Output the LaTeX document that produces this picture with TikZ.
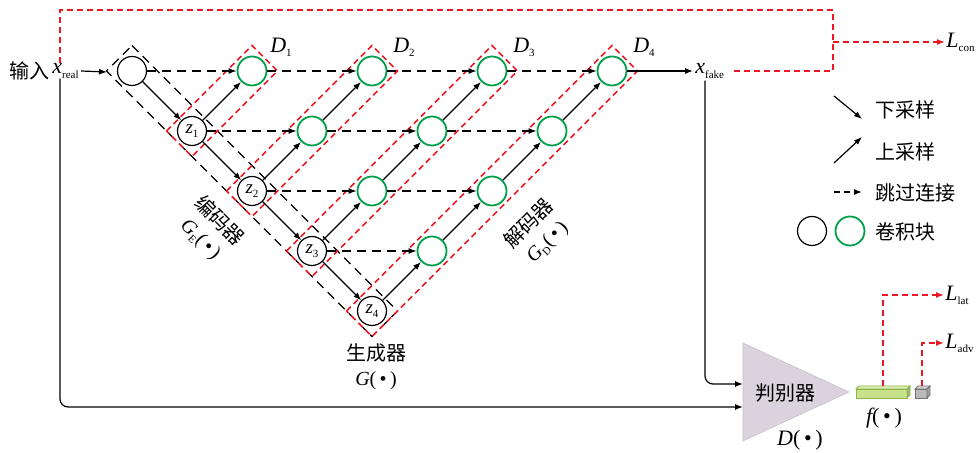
\documentclass[tikz,border=0pt]{standalone}
\usepackage{fontspec}
\setmainfont{Liberation Serif}
\newfontfamily\cjk{Noto Sans CJK SC}
\usepackage{tikz}
\usetikzlibrary{arrows.meta,calc}
\definecolor{convgreen}{RGB}{0,160,75}
\definecolor{lossred}{RGB}{235,25,35}
\definecolor{discfill}{RGB}{218,210,221}
\definecolor{featgreen}{RGB}{200,226,140}
\definecolor{featedge}{RGB}{140,180,70}
\tikzset{
  enc/.style      ={draw,circle,line width=0.6pt,minimum size=14.5pt,inner sep=0pt,font=\fontsize{9.5}{10}\selectfont},
  dec/.style      ={draw=convgreen,circle,line width=0.9pt,minimum size=14.5pt,inner sep=0pt},
  arrow/.style    ={-{Latex[length=4pt,width=3pt]},line width=0.6pt},
  skip/.style     ={arrow,dash pattern=on 4.5pt off 3pt},
  loss/.style     ={draw=lossred,line width=0.75pt,dash pattern=on 3pt off 2pt},
  lossarrow/.style={loss,-{Latex[length=4pt,width=3pt]}},
  encbox/.style   ={draw,line width=0.6pt,dash pattern=on 4.5pt off 3pt},
  decbox/.style   ={draw=lossred,line width=0.75pt,dash pattern=on 3pt off 2pt},
  lbl/.style      ={inner sep=1pt,font=\fontsize{11}{12}\selectfont},
  cnlbl/.style    ={inner sep=1pt,align=center,font=\cjk\fontsize{10}{12.5}\selectfont}
}
% rotated dashed frame round a diagonal chain of blocks
\newcommand{\chainbox}[3]{%
  \path ($(#2)!-9pt!(#3)$) coordinate (cbA) ($(#3)!-9pt!(#2)$) coordinate (cbB);
  \draw[#1] ($(cbA)!9pt!90:(cbB)$) -- ($(cbB)!9pt!-90:(cbA)$)
            -- ($(cbB)!9pt!90:(cbA)$) -- ($(cbA)!9pt!-90:(cbB)$) -- cycle;}
\newcommand{\bul}{(\,\textbullet\,)}
\newcommand{\low}[1]{\raisebox{-0.4ex}{\upshape\fontsize{5.5}{6}\selectfont #1}}

\begin{document}
\begin{tikzpicture}[x=0.5pt,y=-0.5pt]
    \useasboundingbox (0,0) rectangle (976,453);
    % encoder
    \node[enc] (x0) at (132,71)  {};
    \node[enc] (z1) at (192,131) {\itshape z\low{1}};
    \node[enc] (z2) at (252,191) {\itshape z\low{2}};
    \node[enc] (z3) at (312,251) {\itshape z\low{3}};
    \node[enc] (z4) at (372,311) {\itshape z\low{4}};
    % decoder
    \node[dec] (d01) at (252,71)  {};
    \node[dec] (d02) at (372,71)  {};
    \node[dec] (d03) at (492,71)  {};
    \node[dec] (d04) at (612,71)  {};
    \node[dec] (d11) at (312,131) {};
    \node[dec] (d12) at (432,131) {};
    \node[dec] (d13) at (552,131) {};
    \node[dec] (d21) at (372,191) {};
    \node[dec] (d22) at (492,191) {};
    \node[dec] (d31) at (432,251) {};
    \chainbox{encbox}{x0}{z4}
    \chainbox{decbox}{z1}{d01}
    \chainbox{decbox}{z2}{d02}
    \chainbox{decbox}{z3}{d03}
    \chainbox{decbox}{z4}{d04}
    \node[lbl] (lD1) at (281,47) {\itshape D\low{1}};
    \node[lbl] (lD2) at (404,47) {\itshape D\low{2}};
    \node[lbl] (lD3) at (524,47) {\itshape D\low{3}};
    \node[lbl] (lD4) at (644,47) {\itshape D\low{4}};
    % in / out
    \node[cnlbl,anchor=east] (incn) at (52,71) {输入};
    \node[lbl,anchor=west,inner sep=0pt] (xreal) at (52,71) {\itshape x\low{real}};
    \node[lbl,anchor=west] (xfake) at (693,71) {\itshape x\low{fake}};
    \coordinate (encL) at (107,72);
    \draw[arrow] (xreal.east) ++(1pt,0) -- (encL);
    \draw[arrow] (d04) -- (xfake);
    % down sampling
    \draw[arrow] (x0) -- (z1);
    \draw[arrow] (z1) -- (z2);
    \draw[arrow] (z2) -- (z3);
    \draw[arrow] (z3) -- (z4);
    % up sampling
    \draw[arrow] (z1) -- (d01);
    \draw[arrow] (z2) -- (d11);
    \draw[arrow] (d11) -- (d02);
    \draw[arrow] (z3) -- (d21);
    \draw[arrow] (d21) -- (d12);
    \draw[arrow] (d12) -- (d03);
    \draw[arrow] (z4) -- (d31);
    \draw[arrow] (d31) -- (d22);
    \draw[arrow] (d22) -- (d13);
    \draw[arrow] (d13) -- (d04);
    % skips
    \draw[skip] (x0) -- (d01);
    \draw[skip] (d01) -- (d02);
    \draw[skip] (d02) -- (d03);
    \draw[skip] (d03) -- (d04);
    \draw[skip] (z1) -- (d11);
    \draw[skip] (d11) -- (d12);
    \draw[skip] (d12) -- (d13);
    \draw[skip] (z2) -- (d21);
    \draw[skip] (d21) -- (d22);
    \draw[skip] (z3) -- (d31);
    % part names
    \node[cnlbl,rotate=-45] (encname) at (210,230) {编码器\\{\fontspec{Liberation Serif}\itshape G\low{E}\upshape\bul}};
    \node[cnlbl,rotate=45]  (decname) at (538,233) {解码器\\{\fontspec{Liberation Serif}\itshape G\low{D}\upshape\bul}};
    \node[cnlbl] (genname) at (376,367) {生成器\\{\fontspec{Liberation Serif}\itshape G\upshape\bul}};
    % discriminator
    \filldraw[fill=discfill,draw=discfill!80!gray,line width=0.3pt] (743,343) -- (849,392) -- (743,441) -- cycle;
    \node[cnlbl] (discname) at (785,393) {判别器};
    \node[lbl] (dname) at (800,440) {\itshape D\upshape\bul};
    \coordinate (dA) at (743,384);
    \coordinate (dB) at (743,407);
    \coordinate (fline) at (705,0);
    \coordinate (rline) at (60,0);
    \draw[arrow,rounded corners=4pt] (xfake.south -| fline) |- (dA);
    \draw[arrow,rounded corners=4pt] (xreal.south -| rline) |- (dB);
    % feature vector
    \filldraw[fill=featgreen,draw=featedge,line width=0.4pt] (856,389) rectangle (907,398);
    \filldraw[fill=featgreen!60!white,draw=featedge,line width=0.4pt] (856,389) -- (859,386) -- (910,386) -- (907,389) -- cycle;
    \filldraw[fill=featgreen!80!black,draw=featedge,line width=0.4pt] (907,389) -- (910,386) -- (910,395) -- (907,398) -- cycle;
    \filldraw[fill=gray!55,draw=gray!90!black,line width=0.4pt] (915,389) rectangle (927,398);
    \filldraw[fill=gray!35,draw=gray!90!black,line width=0.4pt] (915,389) -- (918,386) -- (930,386) -- (927,389) -- cycle;
    \filldraw[fill=gray!75,draw=gray!90!black,line width=0.4pt] (927,389) -- (930,386) -- (930,395) -- (927,398) -- cycle;
    \node[lbl] (fname) at (884,418) {\itshape f\upshape\bul};
    \coordinate (featTop) at (883,386);
    \coordinate (cubeTop) at (922,386);
    % losses
    \node[lbl,anchor=west,inner sep=0.5pt] (lcon) at (945,42)  {\itshape L\low{con}};
    \node[lbl,anchor=west,inner sep=0.5pt] (llat) at (944,295) {\itshape L\low{lat}};
    \node[lbl,anchor=west,inner sep=0.5pt] (ladv) at (944,343) {\itshape L\low{adv}};
    \coordinate (ltop) at (833,10);
    \coordinate (ljoin) at (833,42);
    \draw[loss] (xreal.north -| rline) |- (ltop) |- ([xshift=2pt]xfake.east);
    \draw[lossarrow] (ljoin) -- (lcon.west);
    \draw[lossarrow] (featTop) |- (llat.west);
    \draw[lossarrow] (cubeTop) |- (ladv.west);
    % legend
    \coordinate (lg1a) at (834,96);
    \coordinate (lg1b) at (862,119);
    \coordinate (lg2a) at (834,163);
    \coordinate (lg2b) at (862,137);
    \coordinate (lg3a) at (834,192);
    \coordinate (lg3b) at (862,192);
    \draw[arrow] (lg1a) -- (lg1b);
    \draw[arrow] (lg2a) -- (lg2b);
    \draw[skip,dash pattern=on 3pt off 2pt] (lg3a) -- (lg3b);
    \node[cnlbl,anchor=west] (lgdown) at (873,110) {下采样};
    \node[cnlbl,anchor=west] (lgup)   at (873,152) {上采样};
    \node[cnlbl,anchor=west] (lgskip) at (873,193) {跳过连接};
    \node[enc] (lgc1) at (812,231) {};
    \node[dec] (lgc2) at (850,231) {};
    \node[cnlbl,anchor=west] (lgconv) at (873,232) {卷积块};
\end{tikzpicture}
\end{document}
